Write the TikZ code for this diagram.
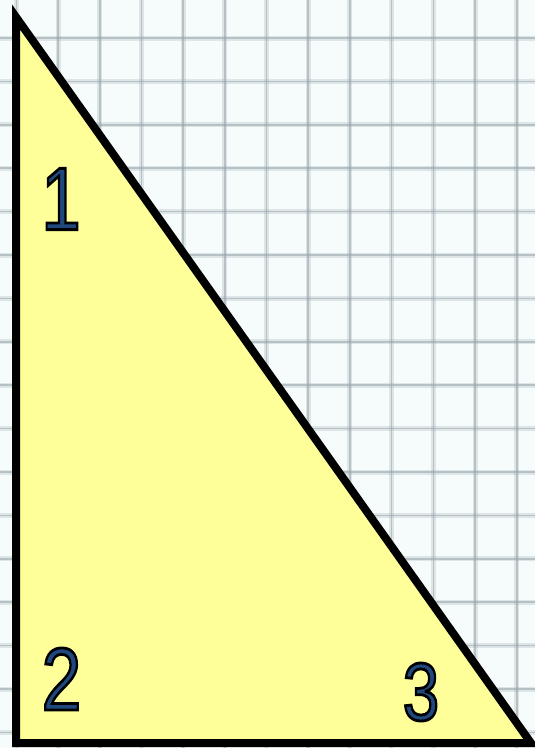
\documentclass[tikz,border=0pt]{standalone}
\usepackage{fontspec}
\setmainfont{Liberation Sans}

\definecolor{paper}{RGB}{246,251,252}
\definecolor{gridline}{RGB}{150,165,172}
\definecolor{wedge}{RGB}{255,255,153}
\definecolor{digit}{RGB}{31,73,125}

\tikzstyle{sheet} = [fill=paper, draw=none]
\tikzstyle{rule} = [draw=gridline, line width=5pt, opacity=0.25,
    postaction={draw=gridline, line width=1.6pt, opacity=0.55}]
\tikzstyle{side} = [draw=black, line width=8pt, fill=wedge, line join=miter]
\tikzstyle{num} = [text=digit, inner sep=0pt, xscale=0.8, font=\fontsize{89}{89}\selectfont]

\newcommand{\outlined}[1]{\special{pdf:literal direct 2 Tr 2.8 w 0 0 0 RG}#1\special{pdf:literal direct 0 Tr}}

\begin{document}
\begin{tikzpicture}[x=1pt, y=-1pt]
\useasboundingbox (0,0) rectangle (535,748);
\path[sheet] (0,0) rectangle (535,748);
% squared paper
\foreach \k in {0,...,12}
    \draw[rule] (16.3+41.7*\k,0) -- (16.3+41.7*\k,748);
\foreach \k in {-1,...,16}
    \draw[rule] (0,38+43.4*\k) -- (535,38+43.4*\k);
% the triangle
\coordinate (top) at (16,17);
\coordinate (corner) at (16,743);
\coordinate (right) at (531,743);
\draw[side] (top) -- (corner) -- (right) -- cycle;
% angle numbers
\node[num] (n1) at (61,199) {\outlined{1}};
\node[num] (n2) at (61.5,679) {\outlined{2}};
\node[num, font=\fontsize{82}{82}\selectfont] (n3) at (421,692) {\outlined{3}};
\end{tikzpicture}
\end{document}
